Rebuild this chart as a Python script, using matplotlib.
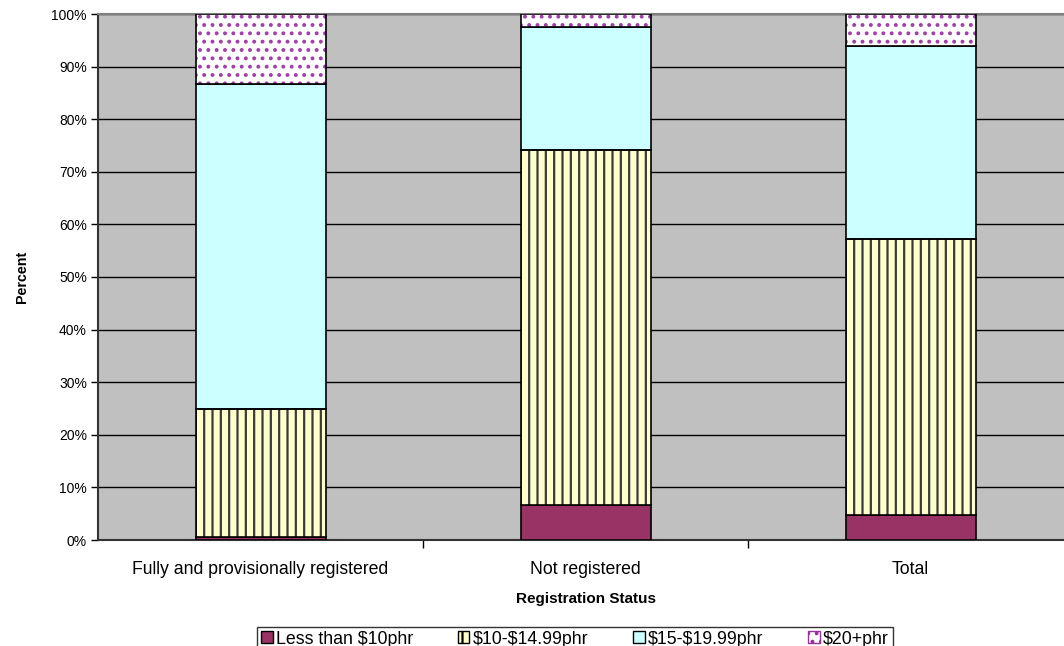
import matplotlib
matplotlib.use("Agg")
import numpy as np
import matplotlib.pyplot as plt
from matplotlib.patches import Patch
from matplotlib.ticker import FixedLocator, PercentFormatter

# Share of staff in each pay band, by registration status (percent)
categories = ["Fully and provisionally registered", "Not registered", "Total"]
less_than_10 = [0.6, 6.6, 4.7]
from_10_to_15 = [24.4, 67.5, 52.5]
from_15_to_20 = [61.6, 23.4, 36.7]
over_20 = [13.4, 2.5, 6.1]

series_labels = ["Less than \\$10phr", "\\$10-\\$14.99phr",
                 "\\$15-\\$19.99phr", "\\$20+phr"]

plt.rcParams["font.family"] = ["Liberation Sans", "DejaVu Sans"]
plt.rcParams["hatch.linewidth"] = 1.6


def main():
    fig = plt.figure(figsize=(10.64, 6.46), dpi=100)
    # plot area runs a little past the right edge of the canvas
    ax = fig.add_axes([98 / 1064, 106 / 646, 975 / 1064, 526 / 646])
    ax.set_facecolor("#C0C0C0")

    x = np.arange(len(categories))
    width = 0.4

    b0 = np.zeros(len(categories))
    b1 = b0 + np.array(less_than_10)
    b2 = b1 + np.array(from_10_to_15)
    b3 = b2 + np.array(from_15_to_20)

    ax.bar(x, less_than_10, width, bottom=b0, color="#993366",
           edgecolor="black", linewidth=1.2, zorder=3)
    ax.bar(x, from_10_to_15, width, bottom=b1, color="#FFFFCC",
           edgecolor="#3A3A3A", hatch="||", linewidth=0, zorder=3)
    ax.bar(x, from_10_to_15, width, bottom=b1, fill=False,
           edgecolor="black", linewidth=1.2, zorder=4)
    ax.bar(x, from_15_to_20, width, bottom=b2, color="#CCFFFF",
           edgecolor="black", linewidth=1.2, zorder=3)
    ax.bar(x, over_20, width, bottom=b3, color="white",
           edgecolor="#A040A8", hatch="..", linewidth=0, zorder=3)
    ax.bar(x, over_20, width, bottom=b3, fill=False,
           edgecolor="black", linewidth=1.2, zorder=4)

    ax.set_xlim(-0.5, len(categories) - 0.5)
    ax.set_ylim(0, 100)

    ax.set_yticks(np.arange(0, 101, 10))
    ax.yaxis.set_major_formatter(PercentFormatter(decimals=0))
    ax.tick_params(axis="y", length=5, width=1, pad=3, labelsize=10)
    ax.grid(axis="y", color="black", linewidth=1, zorder=1)

    ax.set_xticks(x)
    ax.set_xticklabels(categories)
    ax.xaxis.set_minor_locator(FixedLocator(x[:-1] + 0.5))
    ax.tick_params(axis="x", which="major", length=0, pad=15, labelsize=12.7)
    ax.tick_params(axis="x", which="minor", length=6, width=1)

    for side in ["left", "bottom"]:
        ax.spines[side].set_color("#333333")
        ax.spines[side].set_linewidth(1.5)
    ax.spines["top"].set_color("#808080")
    ax.spines["top"].set_linewidth(1.5)
    ax.spines["right"].set_visible(False)

    ax.set_xlabel("Registration Status", fontsize=11, fontweight="bold",
                  labelpad=10)
    ax.set_ylabel("Percent", fontsize=10.3, fontweight="bold", labelpad=16)

    handles = [
        Patch(facecolor="#993366", edgecolor="black", linewidth=1),
        Patch(facecolor="#FFFFCC", edgecolor="black", hatch="||", linewidth=1),
        Patch(facecolor="#CCFFFF", edgecolor="black", linewidth=1),
        Patch(facecolor="white", edgecolor="#993399", hatch="..", linewidth=1),
    ]
    leg = fig.legend(handles, series_labels, loc="upper center",
                     bbox_to_anchor=(575 / 1064, 1 - 627 / 646),
                     ncol=4, fontsize=12.8, frameon=True, fancybox=False,
                     handlelength=0.65, handleheight=0.65, handletextpad=0.2,
                     columnspacing=2.5, borderpad=0.2, borderaxespad=0)
    leg.get_frame().set_edgecolor("black")
    leg.get_frame().set_linewidth(1)

    fig.savefig("out.png", dpi=100)
    plt.close(fig)


if __name__ == "__main__":
    main()
